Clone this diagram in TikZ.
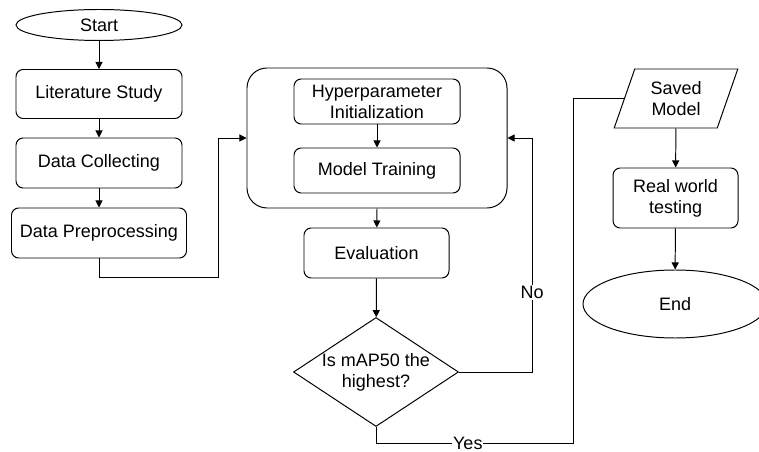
\documentclass[tikz,border=0pt]{standalone}
\usepackage{fontspec}
\setmainfont{Liberation Sans}
\usetikzlibrary{arrows.meta,shapes.geometric}

\begin{document}
\begin{tikzpicture}[every node/.style={font=\fontsize{12.8}{15}\selectfont},
  stepbox/.style={draw,rounded corners=0.18cm,line width=.7pt,align=center,inner sep=1pt},
  term/.style={draw,ellipse,line width=.7pt,inner sep=0pt},
  arr/.style={line width=.7pt,-{Triangle[length=5pt,width=5pt]}},
  wire/.style={line width=.7pt},
  lbl/.style={fill=white,inner sep=1pt}]
\useasboundingbox (0,0) rectangle (18.975,-11.3);
\node[term,minimum width=4.15cm,minimum height=0.775cm] (start) at (2.4750,-0.6250) {Start};
\node[stepbox,minimum width=4.15cm,minimum height=1.225cm] (lit) at (2.4750,-2.3500) {Literature Study};
\node[stepbox,minimum width=4.15cm,minimum height=1.25cm] (coll) at (2.4750,-4.0750) {Data Collecting};
\node[stepbox,minimum width=4.375cm,minimum height=1.25cm] (prep) at (2.4750,-5.8250) {Data Preprocessing};
\node[draw,rounded corners=0.5cm,line width=.7pt,minimum width=6.5cm,minimum height=3.5cm] (box) at (9.4250,-3.4500) {};
\node[stepbox,minimum width=4.15cm,minimum height=1.125cm] (hyper) at (9.4250,-2.5375) {Hyperparameter\\Initialization};
\node[stepbox,minimum width=4.15cm,minimum height=1.125cm] (train) at (9.4250,-4.2625) {Model Training};
\node[stepbox,minimum width=3.625cm,minimum height=1.25cm] (eval) at (9.4125,-6.3250) {Evaluation};
\node[draw,diamond,line width=.7pt,inner sep=0pt,minimum width=4.125cm,minimum height=2.725cm] (dec) at (9.4000,-9.3000) {};
\node[align=center] (dectext) at (dec) {Is mAP50 the\\highest?};
\node[draw,trapezium,trapezium left angle=71,trapezium right angle=109,trapezium stretches=true,line width=.7pt,align=center,minimum width=3.1cm,minimum height=1.475cm] (saved) at (16.9000,-2.4625) {Saved\\Model};
\node[stepbox,minimum width=3.125cm,minimum height=1.5cm] (real) at (16.8875,-4.9500) {Real world\\testing};
\node[term,minimum width=4.6cm,minimum height=1.7cm] (end) at (16.8750,-7.6000) {End};
\coordinate (bendL) at (5.4500,-6.9250);
\coordinate (bendR) at (13.3000,-9.3000);
\coordinate (bendB) at (14.3250,-11.0900);
\draw[arr] (start)--(lit);
\draw[arr] (lit)--(coll);
\draw[arr] (coll)--(prep);
\draw[arr] (prep.south) |- (bendL) |- (box.west);
\draw[arr] (hyper)--(train);
\draw[arr] (box.south)--(eval);
\draw[arr] (eval)--(dec);
\draw[arr] (dec.east)--(bendR) |- node[lbl,pos=0.17] {No} (box.east);
\draw[wire] (dec.south) |- node[lbl,inner sep=0.5pt,pos=0.733] {Yes} (bendB) |- (saved.west);
\draw[arr] (saved)--(real);
\draw[arr] (real)--(end);
\end{tikzpicture}
\end{document}
